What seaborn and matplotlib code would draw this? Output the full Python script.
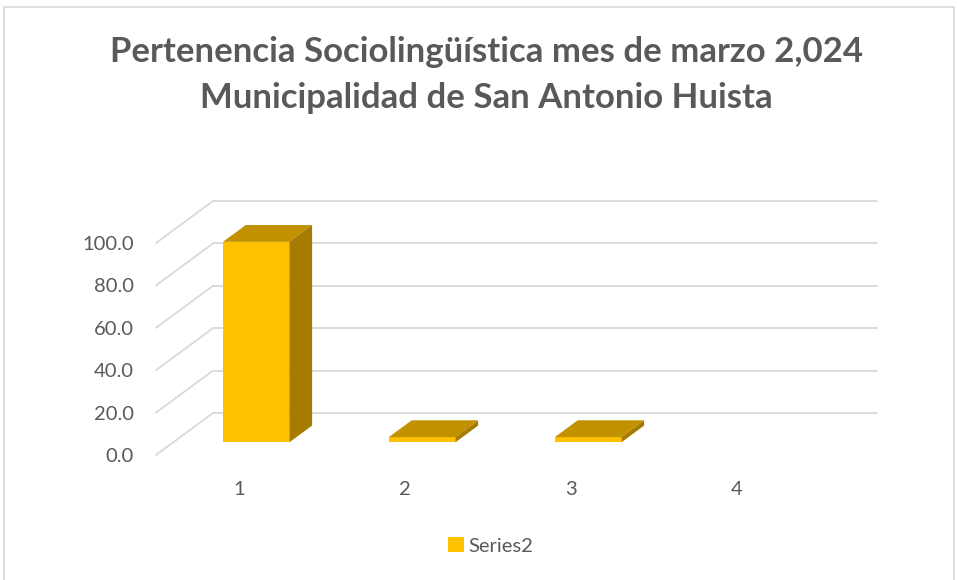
import matplotlib
matplotlib.use("Agg")
import matplotlib.pyplot as plt
import matplotlib.transforms as mtransforms
from matplotlib.patches import Polygon, Rectangle
import seaborn as sns
import pandas as pd

# ---- data ----
categories = ["1", "2", "3", "4"]
values = [94.6, 2.5, 2.5, 0.0]
series_name = "Series2"
yticks = [0, 20, 40, 60, 80, 100]
title_line1 = "Pertenencia Sociolingüística mes de marzo 2,024"
title_line2 = "Municipalidad de San Antonio Huista"

sns.set_theme(style="white")
plt.rcParams["font.family"] = ["Lato", "DejaVu Sans"]

W, H = 957, 580
fig = plt.figure(figsize=(W / 100, H / 100), dpi=100)
fig.patch.set_facecolor("white")

# axes = front plane of the 3D box
ax_l, ax_r, ax_b, ax_t = 156, 820, 455, 243
ax = fig.add_axes([ax_l / W, (H - ax_b) / H, (ax_r - ax_l) / W, (ax_b - ax_t) / H])
ax.set_xlim(-0.5, 3.5)
ax.set_ylim(0, 100)

px_x = (ax_r - ax_l) / 4.0
px_y = (ax_b - ax_t) / 100.0
DX = 57 / px_x
DY = 42 / px_y
f_front, f_back = 0.3, 0.7

grid_c = "#D9D9D9"
for v in yticks:
    ax.plot([-0.5, -0.5 + DX], [v, v + DY], color=grid_c, lw=1.3, clip_on=False, zorder=0)
    ax.plot([-0.5 + DX, 3.5 + DX], [v + DY, v + DY], color=grid_c, lw=1.3, clip_on=False, zorder=0)

df = pd.DataFrame({"cat": categories, "val": values})
sns.barplot(data=df, x="cat", y="val", color="#FFC000", saturation=1, width=0.40,
            ax=ax, label=series_name, zorder=3)

fx, fy = f_front * DX, f_front * DY
bx, by = f_back * DX, f_back * DY
for p in list(ax.patches):
    h = p.get_height()
    x0 = p.get_x()
    x1 = x0 + p.get_width()
    p.set_transform(mtransforms.Affine2D().translate(fx, fy) + ax.transData)
    p.set_clip_on(False)
    p.set_edgecolor("none")
    if h <= 0:
        p.set_visible(False)
        continue
    top = Polygon([(x0 + fx, h + fy), (x1 + fx, h + fy), (x1 + bx, h + by), (x0 + bx, h + by)],
                  closed=True, facecolor="#C29100", edgecolor="none", clip_on=False, zorder=3)
    side = Polygon([(x1 + fx, fy), (x1 + bx, by), (x1 + bx, h + by), (x1 + fx, h + fy)],
                   closed=True, facecolor="#A67C00", edgecolor="none", clip_on=False, zorder=3)
    ax.add_patch(top)
    ax.add_patch(side)

for s in ax.spines.values():
    s.set_visible(False)
ax.set_xlabel("")
ax.set_ylabel("")
ax.set_yticks(yticks)
ax.set_yticklabels([f"{v:.1f}" for v in yticks])
ax.tick_params(axis="y", length=0, pad=16, labelsize=14.5, labelcolor="#595959")
ax.tick_params(axis="x", length=0, pad=19, labelsize=14.5, labelcolor="#595959")
ax.grid(False)
ax.set_facecolor("none")
if ax.get_legend() is not None:
    ax.get_legend().remove()

# title
fig.text(486 / W, 1 - 52 / H, title_line1, ha="center", va="center", fontsize=25,
         fontweight="bold", color="#595959")
fig.text(486 / W, 1 - 98 / H, title_line2, ha="center", va="center", fontsize=25,
         fontweight="bold", color="#595959")

# legend
handle = Rectangle((0, 0), 1, 1, facecolor="#FFC000", edgecolor="none")
fig.legend([handle], [series_name], loc="center", bbox_to_anchor=(491 / W, 1 - 546 / H),
           frameon=False, fontsize=14.5, labelcolor="#595959", handlelength=0.75,
           handleheight=0.75, handletextpad=0.25)

# chart border
fig.add_artist(Rectangle((4 / W, -0.01), 950 / W, 1 - 7 / H + 0.01, transform=fig.transFigure,
                         facecolor="none", edgecolor="#D9D9D9", lw=1.2))

fig.savefig("out.png", dpi=100, facecolor="white")
